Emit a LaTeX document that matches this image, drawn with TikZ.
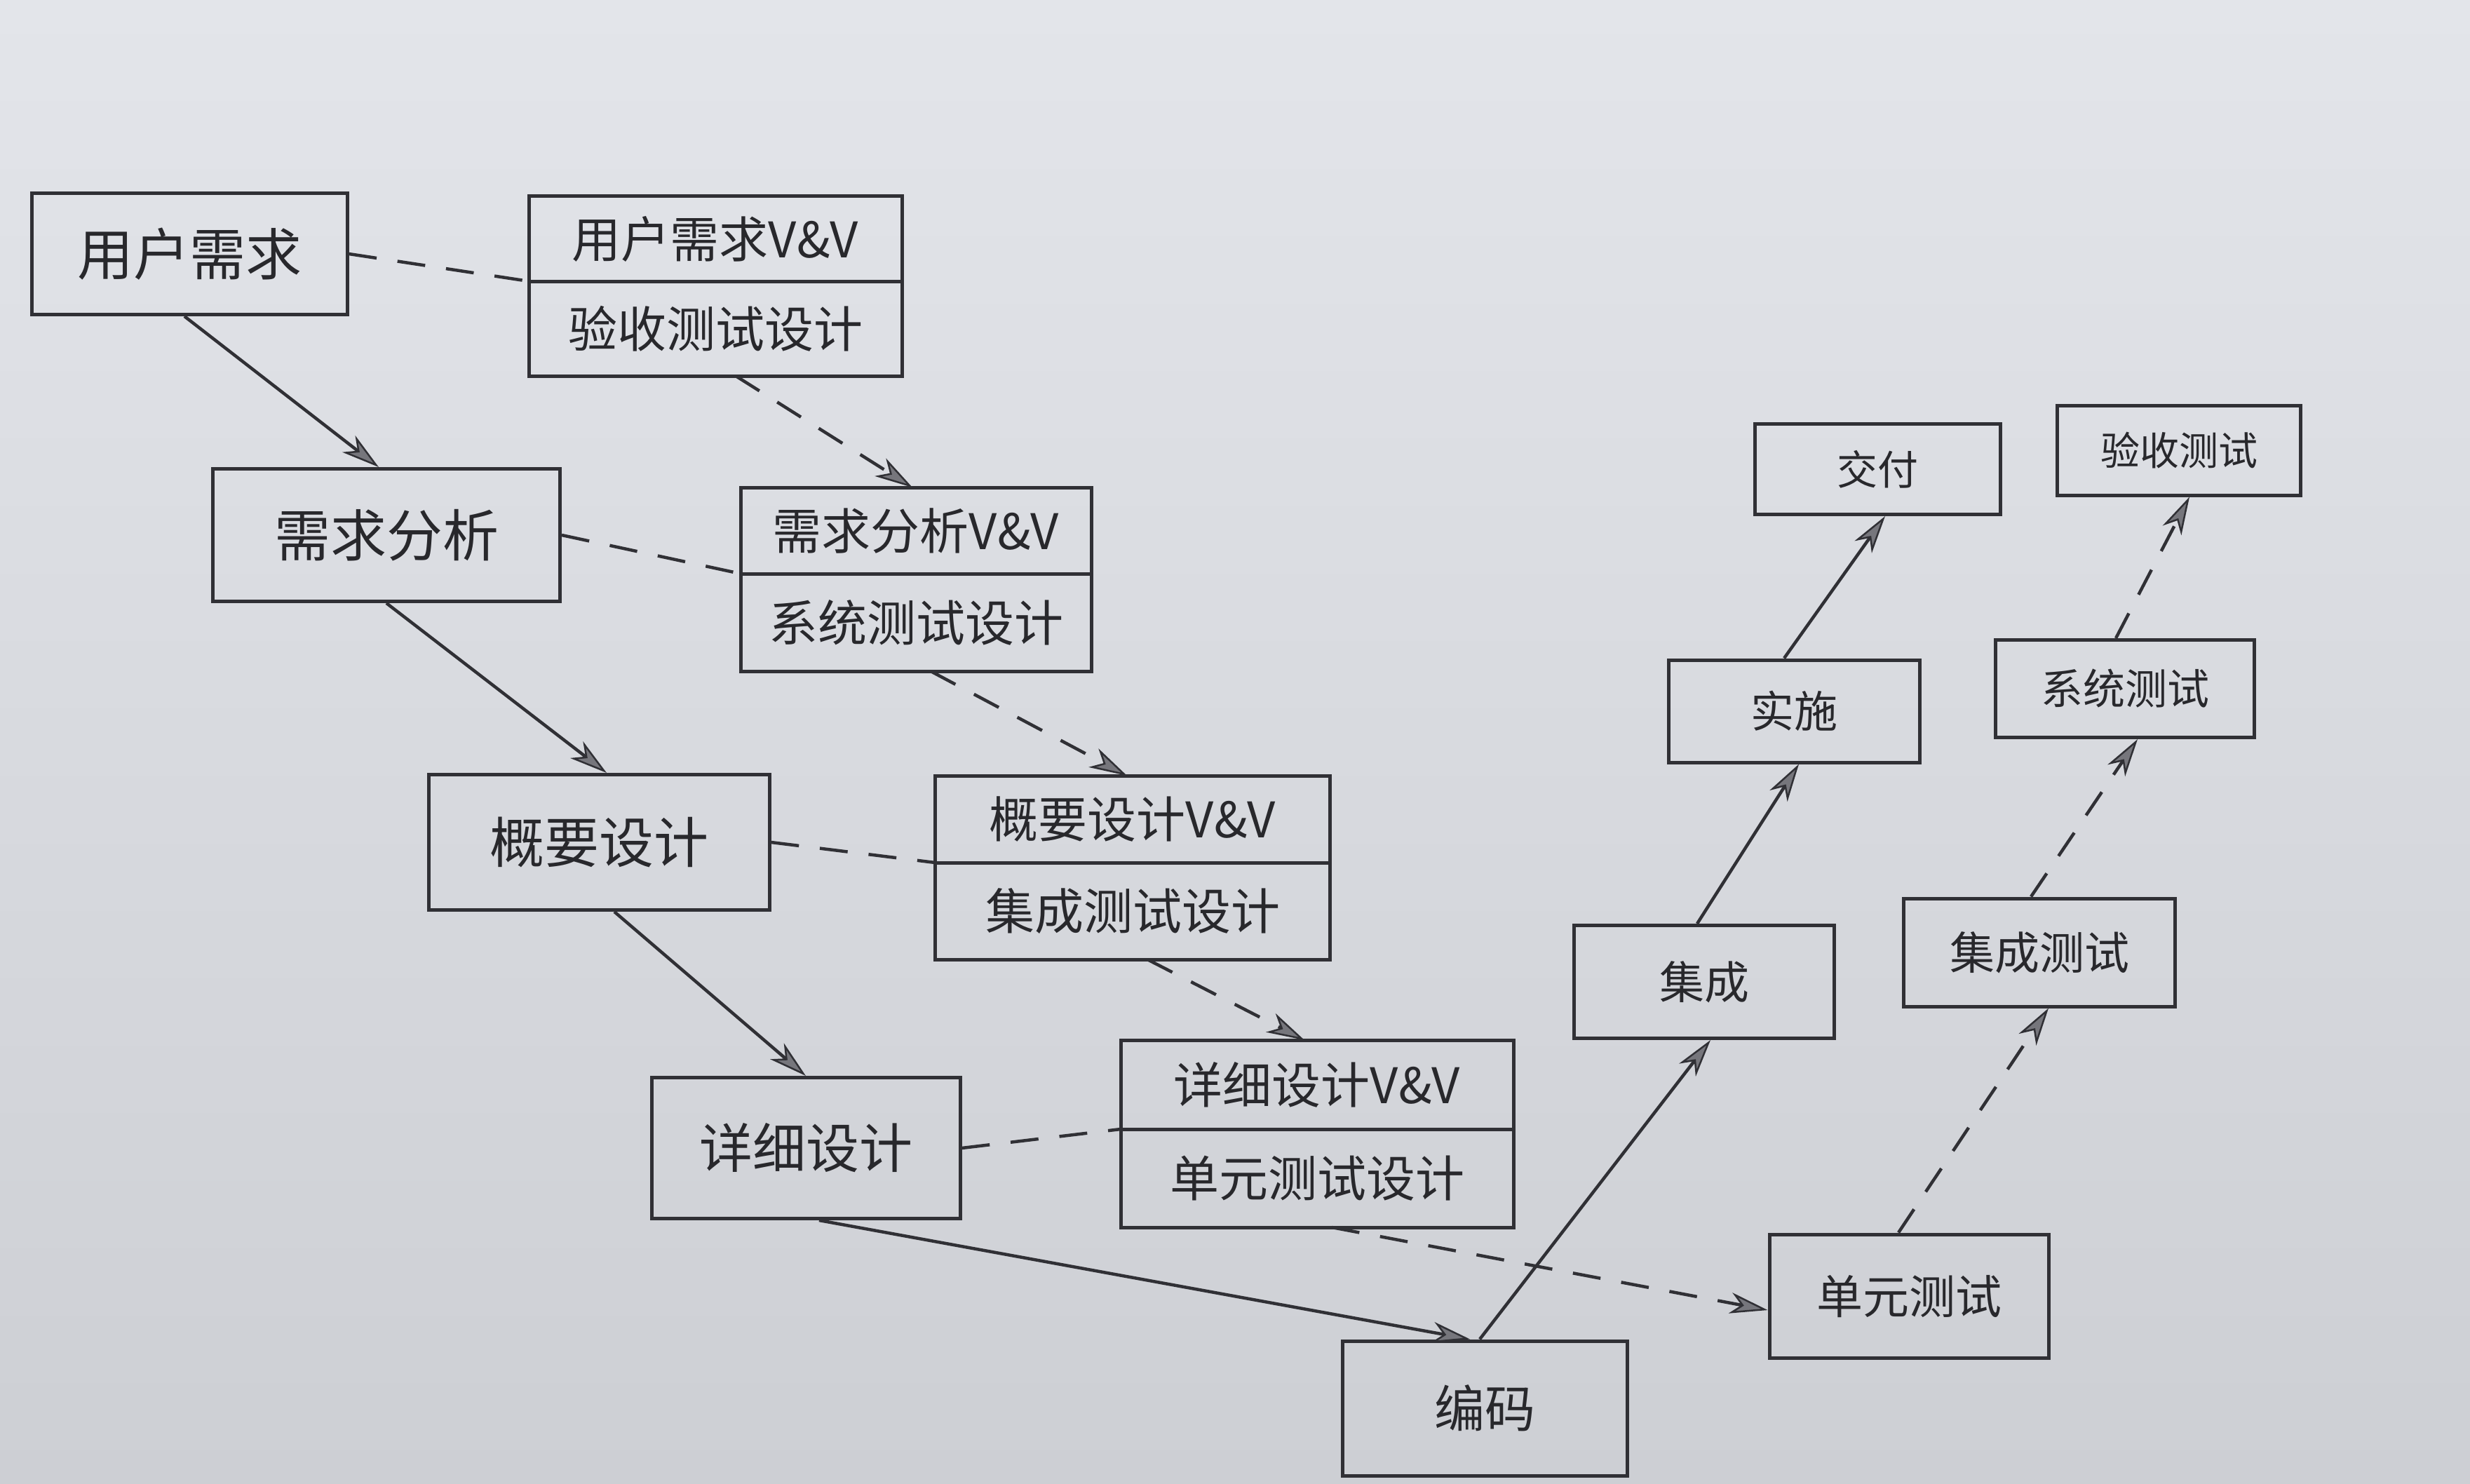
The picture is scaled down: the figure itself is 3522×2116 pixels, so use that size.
\documentclass[tikz,border=0pt]{standalone}
\usepackage{fontspec}
\setmainfont{Noto Sans CJK SC}
\usetikzlibrary{arrows.meta,calc}
\definecolor{paperA}{HTML}{E3E5EA}
\definecolor{paperB}{HTML}{CDCFD4}
\definecolor{linec}{HTML}{303035}
\definecolor{txtc}{HTML}{28282C}
\definecolor{tipfill}{HTML}{76767C}
\newcommand\fszL{\fontsize{80pt}{88pt}\selectfont}
\newcommand\fszV{\fontsize{70pt}{76pt}\selectfont}
\newcommand\fszS{\fontsize{62pt}{68pt}\selectfont}
\begin{document}
\begin{tikzpicture}[x=1pt,y=-1pt,
  box/.style={draw=linec, line width=5pt, inner sep=0pt, text=txtc, align=center},
  bigbox/.style={box, font=\fszL},
  vvbox/.style={box, font=\fszV, outer sep=0pt},
  smallbox/.style={box, font=\fszS},
  solidarrow/.style={draw=linec, line width=4.5pt,
     -{Stealth[length=54pt,width=30pt,inset=16pt,fill=tipfill,line width=2.5pt]}},
  dasharrow/.style={solidarrow, dash pattern=on 40pt off 30pt},
  dashlink/.style={draw=linec, line width=4.5pt, dash pattern=on 40pt off 30pt}]
\useasboundingbox (0,0) rectangle (3522,2116);
\shade[top color=paperA, bottom color=paperB] (0,0) rectangle (3522,2116);

% left branch of the W
\node[bigbox, minimum width=450pt, minimum height=173pt] (ur) at (270,362) {用户需求};
\node[bigbox, minimum width=495pt, minimum height=189pt] (xq) at (551,763) {需求分析};
\node[bigbox, minimum width=486pt, minimum height=193pt, font=\fontsize{78pt}{84pt}\selectfont] (gy) at (854,1201) {概要设计};
\node[bigbox, minimum width=440pt, minimum height=201pt, font=\fontsize{76pt}{82pt}\selectfont] (xd) at (1149,1637) {详细设计};
\node[bigbox, minimum width=406pt, minimum height=192pt, font=\fontsize{72pt}{78pt}\selectfont] (bm) at (2117,2008) {编码};

% V&V boxes
\node[vvbox, anchor=south, minimum width=532pt, minimum height=121pt] (vv1a) at (1020,401) {用户需求V\&V};
\node[vvbox, anchor=north, minimum width=532pt, minimum height=135pt] (vv1b) at (1020,401) {验收测试设计};
\node[vvbox, anchor=south, minimum width=500pt, minimum height=123pt] (vv2a) at (1306,818) {需求分析V\&V};
\node[vvbox, anchor=north, minimum width=500pt, minimum height=139pt] (vv2b) at (1306,818) {系统测试设计};
\node[vvbox, anchor=south, minimum width=563pt, minimum height=124pt] (vv3a) at (1615,1230) {概要设计V\&V};
\node[vvbox, anchor=north, minimum width=563pt, minimum height=138pt] (vv3b) at (1615,1230) {集成测试设计};
\node[vvbox, anchor=south, minimum width=560pt, minimum height=127pt] (vv4a) at (1878,1610) {详细设计V\&V};
\node[vvbox, anchor=north, minimum width=560pt, minimum height=140pt] (vv4b) at (1878,1610) {单元测试设计};

% right branches
\node[smallbox, minimum width=371pt, minimum height=161pt, font=\fontsize{64pt}{70pt}\selectfont] (jc) at (2430,1400) {集成};
\node[smallbox, minimum width=358pt, minimum height=146pt] (ss) at (2558,1014) {实施};
\node[smallbox, minimum width=350pt, minimum height=129pt, font=\fontsize{58pt}{64pt}\selectfont] (jf) at (2677,669) {交付};
\node[smallbox, minimum width=398pt, minimum height=176pt, font=\fontsize{66pt}{72pt}\selectfont] (dy) at (2722,1848) {单元测试};
\node[smallbox, minimum width=387pt, minimum height=154pt, font=\fontsize{64pt}{70pt}\selectfont] (jt) at (2908,1358) {集成测试};
\node[smallbox, minimum width=369pt, minimum height=139pt, font=\fontsize{60pt}{66pt}\selectfont] (xt) at (3030,982) {系统测试};
\node[smallbox, minimum width=347pt, minimum height=128pt, font=\fontsize{56pt}{62pt}\selectfont] (ys) at (3107,642) {验收测试};

% solid development flow
\draw[solidarrow] ([xshift=-7pt]ur.south) -- ([xshift=-11pt]xq.north);
\draw[solidarrow] (xq.south) -- ([xshift=11pt]gy.north);
\draw[solidarrow] ([xshift=22pt]gy.south) -- (xd.north);
\draw[solidarrow] ([xshift=19pt]xd.south) -- ([xshift=-21pt]bm.north);
\draw[solidarrow] ([xshift=-7pt]bm.north) -- ([xshift=9pt]jc.south);
\draw[solidarrow] ([xshift=-10pt]jc.north) -- ([xshift=7pt]ss.south);
\draw[solidarrow] ([xshift=-14pt]ss.north) -- ([xshift=11pt]jf.south);

% dashed test flow
\draw[dasharrow] ([xshift=29pt]vv1b.south) -- ([xshift=-5pt]vv2a.north);
\draw[dasharrow] ([xshift=21pt]vv2b.south) -- ([xshift=-8pt]vv3a.north);
\draw[dasharrow] ([xshift=21pt]vv3b.south) -- ([xshift=-18pt]vv4a.north);
\draw[dasharrow] ([xshift=21pt]vv4b.south) -- ([yshift=-20pt]dy.west);
\draw[dasharrow] ([xshift=-15pt]dy.north) -- ([xshift=13pt]jt.south);
\draw[dasharrow] ([xshift=-12pt]jt.north) -- ([xshift=18pt]xt.south);
\draw[dasharrow] ([xshift=-13pt]xt.north) -- ([xshift=15pt]ys.south);

% dashed links to V&V
\draw[dashlink] (ur.east) -- (vv1a.south west);
\draw[dashlink] (xq.east) -- (vv2a.south west);
\draw[dashlink] (gy.east) -- (vv3a.south west);
\draw[dashlink] (xd.east) -- (vv4a.south west);
\end{tikzpicture}
\end{document}
